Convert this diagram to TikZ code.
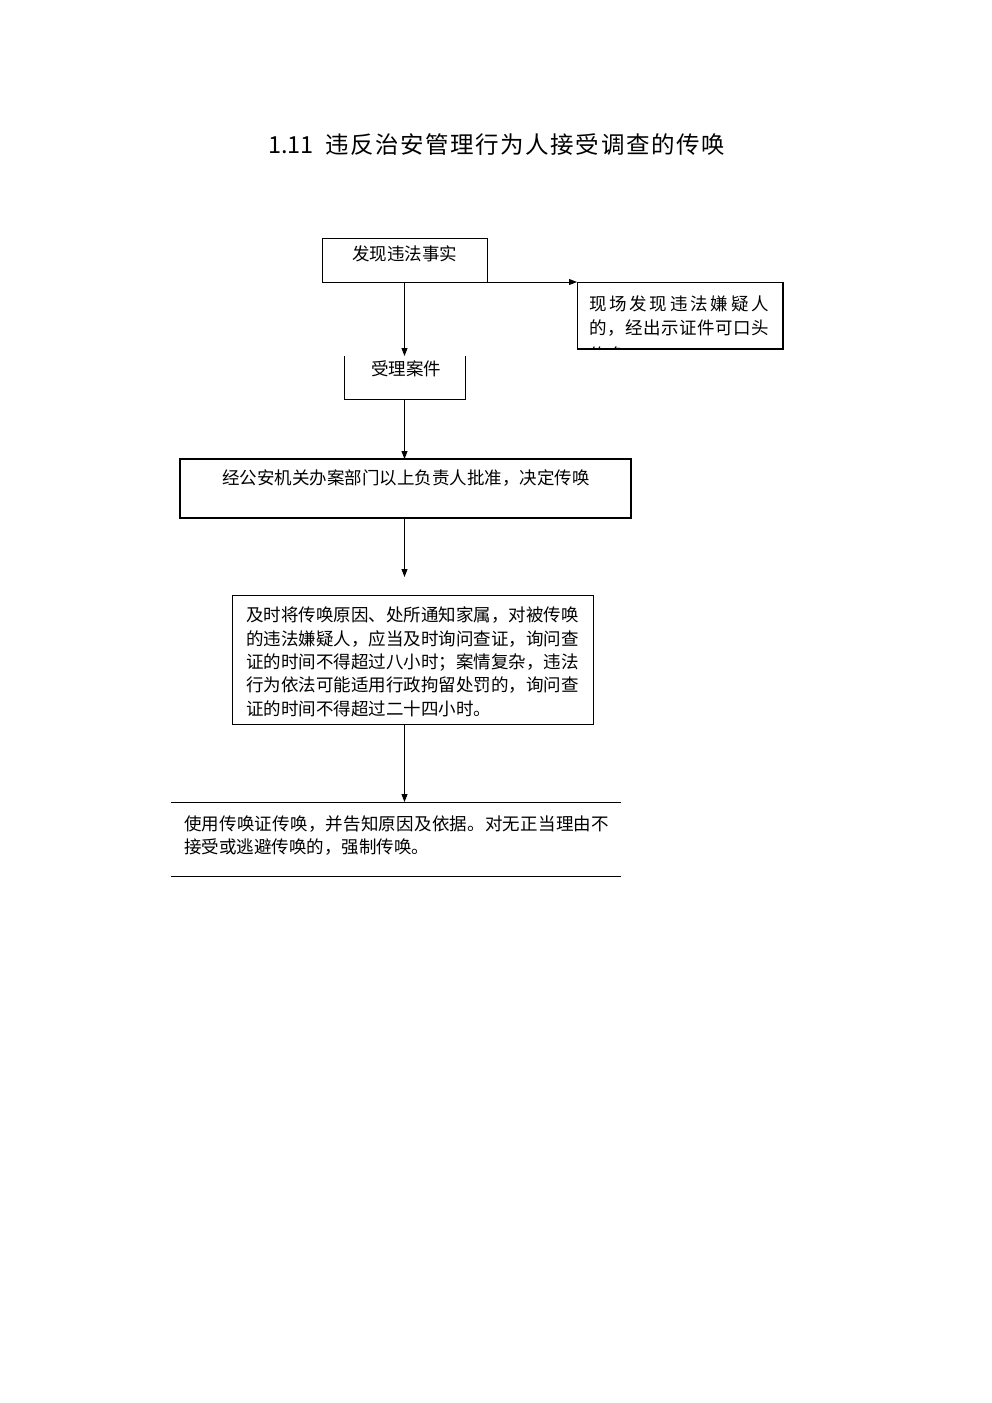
\documentclass[tikz,border=0pt]{standalone}
\usepackage{fontspec}
\setmainfont{Noto Sans CJK SC}
\usetikzlibrary{arrows.meta}
\def\spreadA#1{#1\spreadB}
\def\spreadB#1{\ifx#1\relax\else\hfil#1\expandafter\spreadB\fi}
\newcommand{\jline}[2]{\makebox[#1][s]{\spreadA#2\relax}}
\tikzset{
  boxn/.style={draw, line width=0.9pt, inner sep=0pt, outer sep=0pt},
  plain/.style={inner sep=0pt, outer sep=0pt},
  txt/.style={anchor=base west, inner sep=0pt, outer sep=0pt, font=\fontsize{17.5}{23}\selectfont},
  ttl/.style={anchor=base west, inner sep=0pt, outer sep=0pt, font=\fontsize{23.5}{28}\selectfont},
  arr/.style={line width=0.9pt, -{Triangle[length=8pt,width=6pt]}},
  rule/.style={line width=0.9pt}
}
\begin{document}
\begin{tikzpicture}[x=1pt,y=-1pt]
\useasboundingbox (0,0) rectangle (992,1403);
\fill[white] (0,0) rectangle (992,1403);

% title
\node[ttl] (title) at (268,153) {1.11\hspace{12pt}\jline{399pt}{违反治安管理行为人接受调查的传唤}};

% boxes
\node[boxn, minimum width=165pt, minimum height=44pt] (b1) at (404.5,260) {};
\node[boxn, minimum width=206pt, minimum height=66.5pt] (b2) at (680,315.75) {};
\draw[line width=1.8pt] (b2.north east) -- (b2.south east) -- (b2.south west);
\node[plain, minimum width=121pt, minimum height=43pt] (b3) at (404.5,377.5) {};
\draw[rule] (b3.north west) |- (b3.south east) -- (b3.north east);
\node[boxn, line width=1.8pt, minimum width=451pt, minimum height=59pt] (b4) at (405.5,488.5) {};
\node[boxn, minimum width=361pt, minimum height=129pt] (b5) at (412.5,659.5) {};
\node[plain, minimum width=450pt, minimum height=74pt] (b6) at (396,839) {};
\draw[rule] (b6.north west) -- (b6.north east);
\draw[rule] (b6.south west) -- (b6.south east);

% texts
\node[txt] (t1) at (352,260.7) {发现违法事实};
\node[txt] (t2a) at (589,310.7) {\jline{180pt}{现场发现违法嫌疑人}};
\node[txt] (t2b) at (589,334.7) {\jline{180pt}{的，经出示证件可口头}};
\begin{scope}
\clip ([shift={(1,1)}]b2.north west) rectangle ([shift={(-1,-1.5)}]b2.south east);
\node[txt] (t2c) at (589,361) {传唤};
\end{scope}
\node[txt] (t3) at (371,375.7) {受理案件};
\node[txt] (t4) at (222,484.7) {经公安机关办案部门以上负责人批准，决定传唤};
\node[txt] (t5a) at (246,621.7) {\jline{333pt}{及时将传唤原因、处所通知家属，对被传唤}};
\node[txt] (t5b) at (246,645) {\jline{333pt}{的违法嫌疑人，应当及时询问查证，询问查}};
\node[txt] (t5c) at (246,668.4) {\jline{333pt}{证的时间不得超过八小时；案情复杂，违法}};
\node[txt] (t5d) at (246,691.7) {\jline{333pt}{行为依法可能适用行政拘留处罚的，询问查}};
\node[txt] (t5e) at (246,715) {证的时间不得超过二十四小时。};
\node[txt] (t6a) at (184,830) {\jline{425pt}{使用传唤证传唤，并告知原因及依据。对无正当理由不}};
\node[txt] (t6b) at (184,853.4) {接受或逃避传唤的，强制传唤。};

% connectors
\coordinate (c5) at (404.5,577);
\draw[arr] (b1.south) -- (b1.south |- b3.north);
\draw[arr] (b1.south east) -- (b1.south east -| b2.west);
\draw[arr] (b1.south |- b3.south) -- (b1.south |- b4.north);
\draw[arr] (b1.south |- b4.south) -- (c5);
\draw[arr] (b1.south |- b5.south) -- (b1.south |- b6.north);
\end{tikzpicture}
\end{document}
